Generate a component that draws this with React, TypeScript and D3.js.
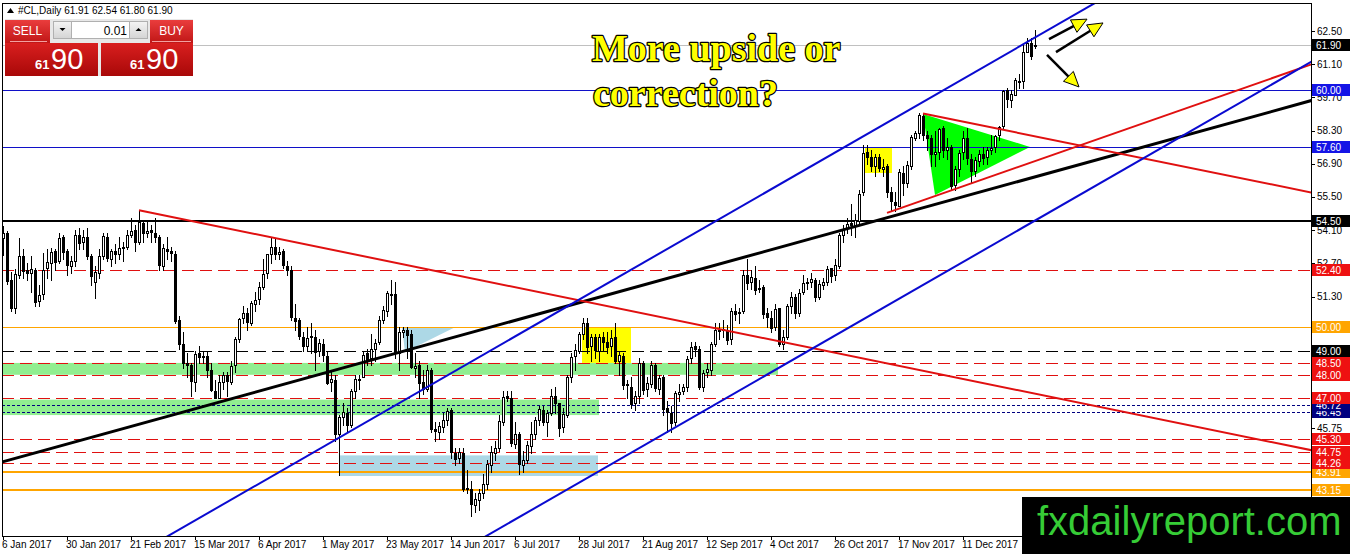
import React from 'react';
import * as d3 from 'd3';

// ---- #CL daily candles, grouped by month: [open, high, low, close] ----
type Bar = [number, number, number, number];

const jan2017: Bar[] = [
  [53.76, 54.28, 53.06, 53.99], [53.99, 54.05, 51.85, 51.96], [52.0, 52.35, 50.71, 50.82],
  [50.8, 52.45, 50.6, 52.25], [52.2, 53.77, 52.1, 53.01], [53.0, 53.3, 52.1, 52.37],
  [52.4, 52.7, 52.0, 52.3], [52.3, 53.0, 51.5, 52.48], [52.4, 52.5, 50.91, 51.08],
  [51.1, 51.8, 50.9, 51.37], [51.4, 53.12, 51.2, 52.42], [52.5, 53.3, 52.1, 52.75],
  [52.7, 53.35, 52.0, 53.18], [53.2, 53.3, 52.4, 52.75], [52.8, 54.0, 52.7, 53.78],
  [53.8, 53.9, 52.9, 53.17], [53.2, 53.3, 52.2, 52.63], [52.6, 53.0, 52.3, 52.81],
];
const feb2017: Bar[] = [
  [52.8, 54.1, 52.6, 53.88], [53.9, 54.2, 53.3, 53.54], [53.6, 54.1, 53.3, 53.83],
  [53.8, 54.2, 52.9, 53.01], [53.0, 53.1, 51.8, 52.17], [51.9, 52.6, 51.22, 52.34],
  [52.3, 53.3, 52.1, 53.0], [53.0, 54.0, 52.9, 53.86], [53.8, 54.0, 52.8, 52.93],
  [52.9, 53.3, 52.6, 53.2], [53.2, 53.5, 52.7, 53.11], [53.1, 53.8, 52.9, 53.36],
  [53.4, 53.6, 52.8, 53.4], [53.4, 54.1, 53.3, 53.9], [53.9, 54.6, 53.8, 54.06],
  [54.1, 54.3, 53.2, 53.59], [53.6, 54.94, 53.5, 54.45], [54.4, 54.5, 53.6, 53.99],
  [54.0, 54.5, 53.8, 54.05], [54.1, 54.3, 53.6, 54.01],
];
const mar2017: Bar[] = [
  [54.0, 54.6, 53.6, 53.83], [53.8, 53.9, 52.4, 52.61], [52.6, 53.5, 52.4, 53.33],
  [53.3, 53.8, 52.9, 53.2], [53.2, 53.4, 52.8, 53.14], [53.1, 53.2, 50.2, 50.28],
  [50.3, 50.5, 49.1, 49.28], [49.3, 49.8, 48.3, 48.49], [48.5, 48.9, 47.9, 48.4],
  [48.4, 48.5, 47.1, 47.72], [47.7, 49.0, 47.3, 48.86], [48.9, 49.2, 48.5, 48.75],
  [48.8, 49.0, 48.5, 48.78], [48.8, 49.0, 47.9, 48.22], [48.2, 48.5, 47.3, 47.34],
  [47.3, 47.8, 47.01, 47.04], [47.0, 48.0, 47.0, 47.7], [47.7, 48.1, 47.4, 47.97],
  [48.0, 48.1, 47.1, 47.73], [47.7, 48.6, 47.6, 48.37], [48.4, 49.6, 48.1, 49.51],
  [49.5, 50.4, 49.4, 50.35], [50.4, 50.9, 50.2, 50.6],
];
const apr2017: Bar[] = [
  [50.6, 50.8, 49.9, 50.24], [50.2, 51.1, 50.1, 51.03], [51.0, 51.5, 50.7, 51.15],
  [51.2, 51.9, 51.0, 51.7], [51.7, 52.9, 51.6, 52.24], [52.3, 53.1, 52.1, 53.08],
  [53.1, 53.8, 52.7, 53.4], [53.4, 53.76, 52.9, 53.11], [53.1, 53.4, 52.9, 53.18],
  [53.2, 53.3, 52.5, 52.65], [52.6, 52.8, 52.2, 52.41], [52.4, 52.6, 50.3, 50.44],
  [50.4, 51.0, 49.9, 50.27], [50.3, 50.4, 49.5, 49.62], [49.6, 49.8, 49.0, 49.23],
  [49.2, 50.0, 49.0, 49.56], [49.6, 50.2, 48.9, 49.62], [49.6, 49.9, 48.2, 48.97],
  [49.0, 49.5, 48.8, 49.33],
];
const may2017: Bar[] = [
  [49.3, 49.5, 48.6, 48.84], [48.8, 49.0, 47.6, 47.66], [47.7, 48.1, 47.3, 47.82],
  [47.8, 48.0, 45.2, 45.52], [45.5, 46.3, 43.76, 46.22], [46.2, 46.8, 45.9, 46.43],
  [46.4, 46.6, 45.6, 45.88], [45.9, 47.4, 45.8, 47.33], [47.3, 48.0, 47.0, 47.83],
  [47.8, 48.0, 47.4, 47.84], [47.9, 49.0, 47.9, 48.85], [48.9, 49.1, 48.4, 48.66],
  [48.7, 49.7, 48.4, 49.07], [49.1, 49.5, 48.6, 49.35], [49.4, 50.5, 49.3, 50.33],
  [50.3, 50.9, 50.2, 50.73], [50.7, 51.55, 50.5, 51.47], [51.4, 52.0, 51.0, 51.36],
  [51.4, 51.9, 48.7, 48.9], [48.9, 50.0, 48.2, 49.8], [49.8, 50.0, 49.6, 49.9],
  [49.9, 50.0, 48.7, 49.66], [49.7, 49.9, 48.3, 48.32],
];
const jun2017: Bar[] = [
  [48.3, 48.9, 47.9, 48.36], [48.4, 48.6, 47.0, 47.66], [47.7, 48.2, 47.2, 47.4],
  [47.4, 48.4, 47.3, 48.19], [48.2, 48.3, 45.6, 45.72], [45.7, 46.0, 45.2, 45.64],
  [45.6, 46.0, 45.3, 45.83], [45.8, 46.4, 45.6, 46.08], [46.1, 46.6, 45.9, 46.46],
  [46.5, 46.6, 44.5, 44.73], [44.7, 44.9, 44.2, 44.46], [44.5, 44.9, 44.3, 44.74],
  [44.7, 44.9, 43.1, 43.2], [43.2, 44.0, 43.0, 43.23], [43.2, 43.5, 42.05, 42.53],
  [42.5, 43.0, 42.2, 42.74], [42.7, 43.2, 42.3, 43.01], [43.0, 43.8, 42.8, 43.38],
  [43.4, 44.4, 43.2, 44.24], [44.2, 45.0, 43.9, 44.74], [44.7, 45.2, 44.4, 44.93],
  [44.9, 46.3, 44.8, 46.04],
];
const jul2017: Bar[] = [
  [46.0, 47.3, 45.9, 47.07], [47.1, 47.3, 46.9, 47.0], [47.0, 47.3, 45.0, 45.13],
  [45.1, 46.0, 44.9, 45.52], [45.5, 45.6, 43.8, 44.23], [44.2, 44.8, 43.9, 44.4],
  [44.4, 45.2, 44.3, 45.04], [45.0, 46.0, 44.7, 45.49], [45.5, 46.2, 45.3, 46.08],
  [46.1, 46.7, 45.9, 46.54], [46.5, 46.7, 45.9, 46.02], [46.0, 46.5, 45.4, 46.4],
  [46.4, 47.4, 46.3, 47.12], [47.1, 47.5, 46.4, 46.79], [46.8, 46.8, 45.4, 45.77],
  [45.8, 46.6, 45.6, 46.34], [46.3, 48.0, 46.2, 47.89], [47.9, 48.9, 47.7, 48.75],
  [48.8, 49.3, 48.2, 49.04], [49.0, 49.8, 48.9, 49.71], [49.7, 50.4, 49.5, 50.17],
];
const aug2017: Bar[] = [
  [50.2, 50.4, 48.9, 49.16], [49.2, 49.7, 48.6, 49.59], [49.6, 49.7, 48.7, 49.03],
  [49.0, 49.7, 48.6, 49.58], [49.6, 49.8, 49.0, 49.39], [49.4, 49.8, 48.9, 49.17],
  [49.2, 49.9, 48.8, 49.56], [49.6, 50.2, 48.5, 48.59], [48.6, 49.0, 48.0, 48.82],
  [48.8, 48.9, 47.4, 47.59], [47.6, 47.8, 47.0, 47.55], [47.5, 47.9, 46.6, 46.78],
  [46.8, 47.3, 46.5, 47.09], [47.1, 48.7, 46.8, 48.51], [48.5, 48.6, 47.2, 47.37],
  [47.4, 47.9, 47.1, 47.64], [47.6, 48.6, 47.5, 48.41], [48.4, 48.5, 47.3, 47.43],
  [47.4, 48.0, 47.2, 47.87], [47.9, 48.0, 46.3, 46.57], [46.6, 46.9, 45.6, 46.44],
  [46.4, 46.7, 45.6, 45.96], [46.0, 47.3, 45.9, 47.23],
];
const sep2017: Bar[] = [
  [47.2, 47.6, 46.9, 47.29], [47.3, 47.6, 47.2, 47.5], [47.5, 48.8, 47.3, 48.66],
  [48.7, 49.4, 48.5, 49.16], [49.2, 49.4, 48.8, 49.09], [49.1, 49.2, 47.4, 47.48],
  [47.5, 48.2, 47.3, 48.07], [48.1, 48.5, 47.9, 48.23], [48.2, 49.4, 48.0, 49.3],
  [49.3, 50.2, 49.2, 49.89], [49.9, 50.2, 49.5, 49.89], [49.9, 50.3, 49.6, 49.91],
  [49.9, 50.1, 49.3, 49.48], [49.5, 50.8, 49.3, 50.69], [50.7, 51.0, 50.3, 50.55],
  [50.6, 50.8, 50.2, 50.66], [50.7, 52.4, 50.6, 52.22], [52.2, 52.9, 51.6, 51.88],
  [51.9, 52.4, 51.6, 52.14], [52.1, 52.6, 51.4, 51.56], [51.6, 52.0, 51.5, 51.67],
];
const oct2017: Bar[] = [
  [51.7, 51.8, 50.4, 50.58], [50.6, 50.8, 50.0, 50.42], [50.4, 50.7, 49.8, 49.98],
  [50.0, 51.0, 49.9, 50.79], [50.8, 50.8, 49.2, 49.29], [49.3, 49.9, 49.1, 49.58],
  [49.6, 51.0, 49.5, 50.92], [50.9, 51.5, 50.6, 51.3], [51.3, 51.4, 50.4, 50.6],
  [50.6, 51.6, 50.5, 51.45], [51.5, 52.2, 51.4, 51.87], [51.9, 52.1, 51.6, 51.88],
  [51.9, 52.3, 51.7, 52.04], [52.0, 52.1, 51.1, 51.29], [51.3, 52.0, 51.2, 51.84],
  [51.8, 52.1, 51.6, 51.9], [51.9, 52.6, 51.8, 52.47], [52.5, 52.5, 51.9, 52.18],
  [52.2, 52.9, 52.0, 52.64], [52.6, 54.0, 52.5, 53.9], [53.9, 54.3, 53.6, 54.15],
  [54.2, 54.6, 54.0, 54.38],
];
const nov2017: Bar[] = [
  [54.4, 55.2, 53.9, 54.3], [54.3, 54.8, 53.8, 54.54], [54.5, 55.8, 54.3, 55.64],
  [55.7, 57.7, 55.6, 57.35], [57.4, 57.7, 56.9, 57.2], [57.2, 57.5, 56.6, 56.81],
  [56.8, 57.3, 56.4, 57.17], [57.2, 57.3, 56.6, 56.74], [56.7, 57.1, 56.4, 56.76],
  [56.8, 56.9, 55.5, 55.7], [55.7, 55.9, 54.9, 55.33], [55.3, 55.7, 54.9, 55.14],
  [55.1, 56.7, 55.1, 56.55], [56.5, 56.8, 55.6, 56.09], [56.1, 57.0, 55.9, 56.83],
  [56.8, 58.1, 56.7, 58.02], [58.0, 58.3, 57.9, 58.2], [58.2, 59.05, 58.0, 58.95],
  [58.9, 59.0, 57.9, 58.11], [58.1, 58.3, 57.5, 57.99], [58.0, 58.1, 56.8, 57.3],
  [57.3, 58.3, 56.8, 57.4],
];
const dec2017: Bar[] = [
  [57.4, 58.4, 57.1, 58.36], [58.4, 58.5, 57.2, 57.47], [57.5, 58.0, 57.1, 57.62],
  [57.6, 57.7, 55.8, 55.96], [56.0, 56.8, 55.8, 56.69], [56.7, 57.5, 56.4, 57.36],
  [57.4, 58.3, 57.1, 57.99], [58.0, 58.4, 56.9, 57.14], [57.1, 57.3, 56.1, 56.6],
  [56.6, 57.2, 56.4, 57.04], [57.0, 57.5, 56.8, 57.3], [57.3, 57.6, 56.9, 57.16],
  [57.2, 57.6, 56.9, 57.46], [57.5, 58.1, 57.3, 57.56], [57.6, 58.1, 57.4, 58.09],
  [58.1, 58.5, 57.9, 58.47], [58.5, 60.0, 58.4, 59.97], [60.0, 60.1, 59.3, 59.64],
  [59.6, 60.0, 59.3, 59.84], [59.8, 60.5, 59.8, 60.42],
];
const jan2018: Bar[] = [
  [60.4, 60.7, 60.1, 60.37], [60.4, 61.9, 60.1, 61.63], [61.6, 62.2, 61.6, 62.01],
  [62.0, 62.2, 61.3, 61.44], [61.91, 62.54, 61.8, 61.9],
];

const candles: Bar[] = [
  ...jan2017, ...feb2017, ...mar2017, ...apr2017, ...may2017, ...jun2017,
  ...jul2017, ...aug2017, ...sep2017, ...oct2017, ...nov2017, ...dec2017, ...jan2018,
];

// ---- axis labels ----
const dateLabels = [
  '6 Jan 2017', '30 Jan 2017', '21 Feb 2017', '15 Mar 2017', '6 Apr 2017', '1 May 2017',
  '23 May 2017', '14 Jun 2017', '6 Jul 2017', '28 Jul 2017', '21 Aug 2017', '12 Sep 2017',
  '4 Oct 2017', '26 Oct 2017', '17 Nov 2017', '11 Dec 2017', '4 Jan 2018',
];
const BARS_PER_LABEL = 16;
const priceTicks = [62.5, 61.1, 59.7, 58.3, 56.9, 55.5, 54.1, 52.7, 51.3, 49.9, 48.5, 47.1, 45.75, 44.35];

// ---- horizontal levels ----
const bidPrice = 61.9;
const blueLevels = [60.0, 57.6];
const blackLevels = [54.5];
const redLevels = [52.4, 48.5, 48.0, 47.0, 45.3, 44.75, 44.26];
const orangeThinLevels = [50.0];
const orangeThickLevels = [43.91, 43.15];
const blackDashedLevels = [49.0];
const navyDottedLevels = [46.72, 46.45];

// ---- zones: [fromBar, toBar, topPrice, bottomPrice] ----
const greenZones: [number, number, number, number][] = [
  [-3, 193.75, 48.5, 48.0],
  [-3, 149, 46.95, 46.3],
];
const blueZones: [number, number, number, number][] = [[84.25, 148.75, 44.6, 43.73]];
const yellowZones: [number, number, number, number][] = [
  [144.75, 157, 50.0, 48.5],
  [215.5, 222.25, 57.57, 56.51],
];
// filled triangles: [bar, price] vertices
const greenTriangle: [number, number][] = [[230, 59.0], [233, 55.58], [256.75, 57.61]];
const blueWedge: [number, number][] = [[99.75, 50.0], [113, 50.0], [100.5, 48.96]];

// ---- trend lines: two anchors [bar, price], extension mode ----
type Trend = { a: [number, number]; b: [number, number]; both: boolean };
const redTrends: Trend[] = [
  { a: [34, 54.94], b: [326.75, 44.83], both: false },
  { a: [230, 59.02], b: [326.75, 55.7], both: false },
  { a: [221, 54.83], b: [326.75, 61.07], both: false },
];
const blackTrends: Trend[] = [{ a: [0, 44.33], b: [326.75, 59.55], both: true }];
const blueTrends: Trend[] = [
  { a: [143, 51.07], b: [273, 63.68], both: true },
  { a: [121.75, 41.29], b: [326.75, 61.17], both: true },
];

// ---- scenario arrows: [fromBar, fromPrice, toBar, toPrice] ----
const arrows: [number, number, number, number][] = [
  [261.5, 62.16, 271, 63.0],
  [263.25, 61.61, 275, 62.84],
  [261, 61.49, 269, 60.14],
];

const W = 1350;
const H = 554;
const PLOT = { left: 2, top: 3, right: 1311, bottom: 536 };
const FONT = "'Liberation Sans', Arial, sans-serif";

const x = d3.scaleLinear().domain([0, 327]).range([3, 1311]);
const y = d3.scaleLinear().domain([41.2, 62.5]).range([536, 31]);

function extend(t: Trend): [number, number][] {
  const slope = (t.b[1] - t.a[1]) / (t.b[0] - t.a[0]);
  const x0 = t.both ? -40 : t.a[0];
  const x1 = 360;
  return [
    [x0, t.a[1] + slope * (x0 - t.a[0])],
    [x1, t.a[1] + slope * (x1 - t.a[0])],
  ];
}

const linePath = d3
  .line<[number, number]>()
  .x((d) => x(d[0]))
  .y((d) => y(d[1]));

function Candles() {
  return (
    <g shapeRendering="crispEdges">
      {candles.map(([o, h, l, c], i) => {
        const cx = Math.round(x(i));
        const top = Math.round(y(Math.max(o, c)));
        const bot = Math.round(y(Math.min(o, c)));
        const bull = c >= o;
        return (
          <g key={i}>
            <line x1={cx + 0.5} x2={cx + 0.5} y1={Math.round(y(h))} y2={Math.round(y(l)) + 1} stroke="#000" strokeWidth={1} />
            <rect
              x={cx - 0.5}
              y={top + 0.5}
              width={2}
              height={Math.max(bot - top, 1)}
              fill={bull ? '#fff' : '#000'}
              stroke="#000"
              strokeWidth={1}
            />
          </g>
        );
      })}
    </g>
  );
}

function HLines() {
  const full = (p: number, stroke: string, width: number, dash?: string) => (
    <line
      key={`${stroke}-${p}`}
      x1={PLOT.left}
      x2={PLOT.right}
      y1={Math.round(y(p)) + (width % 2 ? 0.5 : 0)}
      y2={Math.round(y(p)) + (width % 2 ? 0.5 : 0)}
      stroke={stroke}
      strokeWidth={width}
      strokeDasharray={dash}
    />
  );
  return (
    <g shapeRendering="crispEdges">
      {full(bidPrice, '#c0c0c0', 1)}
      {blueLevels.map((p) => full(p, '#1010c8', 1))}
      {blackLevels.map((p) => full(p, '#000', 2))}
      {redLevels.map((p) => full(p, '#e01010', 1, '12,6'))}
      {orangeThinLevels.map((p) => full(p, '#ffa500', 1))}
      {orangeThickLevels.map((p) => full(p, '#ffa500', 2))}
      {blackDashedLevels.map((p) => full(p, '#000', 1, '12,6'))}
      {navyDottedLevels.map((p) => full(p, '#000080', 1, '3,2'))}
    </g>
  );
}

function Zones() {
  const rect = (z: [number, number, number, number], fill: string, k: string) => (
    <rect key={k} x={x(z[0])} y={y(z[2])} width={x(z[1]) - x(z[0])} height={y(z[3]) - y(z[2])} fill={fill} />
  );
  const poly = (pts: [number, number][]) => pts.map((p) => `${x(p[0])},${y(p[1])}`).join(' ');
  return (
    <g>
      {greenZones.map((z, i) => rect(z, '#90ee90', `g${i}`))}
      {blueZones.map((z, i) => rect(z, '#add8e6', `b${i}`))}
      {yellowZones.map((z, i) => rect(z, '#ffff00', `y${i}`))}
      <polygon points={poly(greenTriangle)} fill="#00ff00" />
      <polygon points={poly(blueWedge)} fill="#add8e6" />
    </g>
  );
}

function Trends() {
  return (
    <g>
      {blackTrends.map((t, i) => (
        <path key={`k${i}`} d={linePath(extend(t)) ?? ''} stroke="#000" strokeWidth={3} fill="none" />
      ))}
      {redTrends.map((t, i) => (
        <path key={`r${i}`} d={linePath(extend(t)) ?? ''} stroke="#e01010" strokeWidth={2} fill="none" />
      ))}
      {blueTrends.map((t, i) => (
        <path key={`b${i}`} d={linePath(extend(t)) ?? ''} stroke="#0a0ad0" strokeWidth={2} fill="none" />
      ))}
    </g>
  );
}

function Arrows() {
  return (
    <g>
      {arrows.map(([b0, p0, b1, p1], i) => {
        const x0 = x(b0), y0 = y(p0), x1 = x(b1), y1 = y(p1);
        const len = Math.hypot(x1 - x0, y1 - y0);
        const ux = (x1 - x0) / len, uy = (y1 - y0) / len;
        const headLen = 15, half = 7;
        const bx = x1 - ux * headLen, by = y1 - uy * headLen;
        const pts = [
          [x1, y1],
          [bx - uy * half, by + ux * half],
          [bx + uy * half, by - ux * half],
        ]
          .map((p) => p.join(','))
          .join(' ');
        return (
          <g key={i}>
            <line x1={x0} y1={y0} x2={bx + ux * 2} y2={by + uy * 2} stroke="#000" strokeWidth={2.5} />
            <polygon points={pts} fill="#ffff00" stroke="#000" strokeWidth={1} strokeLinejoin="round" />
          </g>
        );
      })}
    </g>
  );
}

type Tag = { p: number; bg: string };
// lower prices are painted first so the tag above stays readable where two overlap
const priceTags: Tag[] = [
  { p: bidPrice, bg: '#000' },
  ...blueLevels.map((p) => ({ p, bg: '#1414e6' })),
  ...blackLevels.map((p) => ({ p, bg: '#000' })),
  ...orangeThinLevels.map((p) => ({ p, bg: '#ffa500' })),
  ...blackDashedLevels.map((p) => ({ p, bg: '#000' })),
  ...redLevels.map((p) => ({ p, bg: '#ee1111' })),
  ...navyDottedLevels.map((p) => ({ p, bg: '#000080' })),
  ...orangeThickLevels.map((p) => ({ p, bg: '#ffa500' })),
].sort((a, b) => a.p - b.p);

function PriceAxis() {
  return (
    <g fontFamily={FONT} fontSize={10}>
      {priceTicks.map((p) => (
        <g key={p}>
          <line x1={PLOT.right} x2={PLOT.right + 4} y1={Math.round(y(p)) + 0.5} y2={Math.round(y(p)) + 0.5} stroke="#000" shapeRendering="crispEdges" />
          <text x={PLOT.right + 6} y={y(p)} dy="0.35em" fill="#000">
            {p.toFixed(2)}
          </text>
        </g>
      ))}
      {priceTags.map((t) => (
        <g key={`tag${t.p}`}>
          <rect x={PLOT.right + 1} y={Math.round(y(t.p)) - 6} width={W - PLOT.right - 1} height={12} fill={t.bg} shapeRendering="crispEdges" />
          <text x={PLOT.right + 5} y={Math.round(y(t.p)) + 0.5} dy="0.35em" fill="#fff">
            {t.p.toFixed(2)}
          </text>
        </g>
      ))}
    </g>
  );
}

function TimeAxis() {
  return (
    <g fontFamily={FONT} fontSize={10}>
      {dateLabels.map((lab, i) => {
        const tx = Math.round(x(i * BARS_PER_LABEL));
        return (
          <g key={lab}>
            <line x1={tx + 0.5} x2={tx + 0.5} y1={PLOT.bottom} y2={PLOT.bottom + 4} stroke="#000" shapeRendering="crispEdges" />
            <text x={tx - 1} y={PLOT.bottom + 12} fill="#000">
              {lab}
            </text>
          </g>
        );
      })}
    </g>
  );
}

function TradePanel() {
  return (
    <g fontFamily={FONT}>
      <defs>
        <linearGradient id="btnRed" x1="0" y1="0" x2="0" y2="1">
          <stop offset="0" stopColor="#ea3d3d" />
          <stop offset="1" stopColor="#c01616" />
        </linearGradient>
        <linearGradient id="boxRed" x1="0" y1="0" x2="0" y2="1">
          <stop offset="0" stopColor="#d91f1f" />
          <stop offset="1" stopColor="#a80808" />
        </linearGradient>
        <linearGradient id="btnGray" x1="0" y1="0" x2="0" y2="1">
          <stop offset="0" stopColor="#f4f4f4" />
          <stop offset="1" stopColor="#d4d4d4" />
        </linearGradient>
      </defs>
      {/* symbol header */}
      <polygon points="7,13 10.5,8 14,13" fill="#000" />
      <text x={18} y={14} fontSize={10} fill="#000">
        #CL,Daily  61.91 62.54 61.80 61.90
      </text>
      {/* one-click trading panel */}
      <rect x={5} y={19} width={188} height={57} fill="#e8e8e8" />
      <rect x={5} y={20} width={45} height={23} fill="url(#btnRed)" />
      <text x={27.5} y={35} fontSize={12} fill="#fff" textAnchor="middle">SELL</text>
      <line x1={10} x2={47} y1={41.5} y2={41.5} stroke="#f3a0a0" strokeWidth={1} />
      <rect x={150} y={20} width={43} height={23} fill="url(#btnRed)" />
      <text x={171.5} y={35} fontSize={12} fill="#fff" textAnchor="middle">BUY</text>
      <line x1={152} x2={191} y1={41.5} y2={41.5} stroke="#f3a0a0" strokeWidth={1} />
      <rect x={53.5} y={21.5} width={18} height={17} fill="url(#btnGray)" stroke="#b0b0b0" />
      <polygon points="59.5,28 65.5,28 62.5,31" fill="#000" />
      <rect x={71.5} y={21.5} width={58} height={17} fill="#fff" stroke="#b0b0b0" />
      <text x={127} y={35} fontSize={12} fill="#000" textAnchor="end">0.01</text>
      <rect x={129.5} y={21.5} width={18} height={17} fill="url(#btnGray)" stroke="#b0b0b0" />
      <polygon points="135.5,31 141.5,31 138.5,28" fill="#000" />
      <rect x={5} y={43} width={93} height={33} fill="url(#boxRed)" />
      <rect x={101} y={43} width={92} height={33} fill="url(#boxRed)" />
      <text x={35} y={69} fontSize={13} fontWeight="bold" fill="#fff">61</text>
      <text x={51} y={69} fontSize={29} fill="#fff">90</text>
      <text x={130} y={69} fontSize={13} fontWeight="bold" fill="#fff">61</text>
      <text x={146} y={69} fontSize={29} fill="#fff">90</text>
    </g>
  );
}

export default function App() {
  return (
    <div style={{ position: 'absolute', left: 0, top: 0, width: W, height: H }}>
      <svg width={W} height={H} viewBox={`0 0 ${W} ${H}`} style={{ display: 'block', background: '#fff' }}>
        <defs>
          <clipPath id="plotClip">
            <rect x={PLOT.left} y={PLOT.top} width={PLOT.right - PLOT.left} height={PLOT.bottom - PLOT.top} />
          </clipPath>
        </defs>
        <rect x={0} y={0} width={W} height={H} fill="#fff" />
        <g clipPath="url(#plotClip)">
          <Zones />
          <HLines />
          <Candles />
          <Trends />
          <Arrows />
        </g>
        {/* frame */}
        <rect
          x={PLOT.left + 0.5}
          y={PLOT.top + 0.5}
          width={PLOT.right - PLOT.left}
          height={PLOT.bottom - PLOT.top}
          fill="none"
          stroke="#000"
          strokeWidth={1}
          shapeRendering="crispEdges"
        />
        <PriceAxis />
        <TimeAxis />
        <g fontFamily="'Liberation Serif', 'Times New Roman', serif" fontWeight="bold" fontSize={38} fill="#ffff00" stroke="#000" strokeWidth={2.5} paintOrder="stroke" strokeLinejoin="round">
          <text x={592} y={61}>More upside or</text>
          <text x={593} y={106}>correction?</text>
        </g>
        <TradePanel />
        <rect x={1022} y={497} width={W - 1022} height={H - 497} fill="#000" />
        <text x={1037} y={535} fontFamily={FONT} fontSize={40} fill="#36cc36">
          fxdailyreport.com
        </text>
      </svg>
    </div>
  );
}
